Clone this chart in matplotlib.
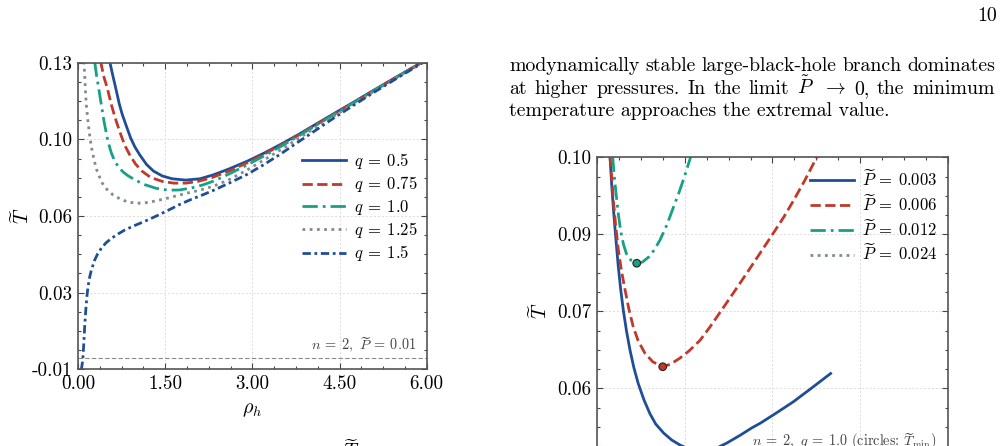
import numpy as np
import matplotlib
matplotlib.use("Agg")
import matplotlib.pyplot as plt
from matplotlib.ticker import FormatStrFormatter, AutoMinorLocator, FixedLocator, FixedFormatter
from matplotlib.transforms import IdentityTransform

plt.rcParams.update({
    "font.family": "serif",
    "font.serif": ["cmr10"],
    "mathtext.fontset": "cm",
    "axes.unicode_minus": False,
    "axes.formatter.use_mathtext": True,
})

# ---------------------------------------------------------------------------
# data, left panel : T(rho_h) for several q, n = 2, P = 0.01
# ---------------------------------------------------------------------------
rho_q05 = [0.546, 0.60, 0.65, 0.712, 0.76, 0.805, 0.86, 0.908, 0.98, 1.063, 1.18, 1.30, 1.45,
           1.62, 1.85, 2.10, 2.33, 2.60, 2.91, 3.20, 3.48, 3.80, 4.06, 4.40, 4.75, 5.10, 5.50, 6.00]
T_q05 = [0.1305, 0.1240, 0.1183, 0.1110, 0.1065, 0.1031, 0.0990, 0.0955, 0.0915, 0.0879, 0.0835, 0.0805,
         0.0783, 0.0770, 0.0764, 0.0770, 0.0788, 0.0815, 0.0850, 0.0887, 0.0926, 0.0973, 0.1014, 0.1067,
         0.1121, 0.1176, 0.1238, 0.1315]

rho_q075 = [0.391, 0.44, 0.505, 0.575, 0.62, 0.66, 0.71, 0.759, 0.82, 0.891, 0.988, 1.10, 1.25, 1.45,
            1.65, 1.85, 2.05, 2.30, 2.60, 2.91, 3.20, 3.48, 3.80, 4.06, 4.40, 4.75, 5.10, 5.50, 6.00]
T_q075 = [0.1305, 0.1240, 0.1183, 0.1107, 0.1066, 0.1031, 0.0992, 0.0955, 0.0915, 0.0879, 0.0838, 0.0805,
          0.0776, 0.0758, 0.0750, 0.0750, 0.0757, 0.0775, 0.0805, 0.0843, 0.0882, 0.0922, 0.0970, 0.1011,
          0.1065, 0.1119, 0.1175, 0.1237, 0.1314]

rho_q10 = [0.287, 0.32, 0.356, 0.402, 0.448, 0.505, 0.54, 0.575, 0.63, 0.70, 0.78, 0.86, 1.00, 1.15,
           1.35, 1.55, 1.75, 1.95, 2.15, 2.35, 2.60, 2.91, 3.20, 3.48, 3.80, 4.06, 4.40, 4.75, 5.10,
           5.50, 6.00]
T_q10 = [0.1305, 0.1240, 0.1183, 0.1107, 0.1031, 0.0955, 0.0918, 0.0887, 0.0852, 0.0822, 0.0800, 0.0784,
         0.0762, 0.0743, 0.0726, 0.0718, 0.0719, 0.0728, 0.0742, 0.0761, 0.0792, 0.0833, 0.0874, 0.0916,
         0.0966, 0.1008, 0.1063, 0.1118, 0.1174, 0.1236, 0.1313]

rho_q125 = [0.103, 0.126, 0.143, 0.172, 0.207, 0.235, 0.259, 0.287, 0.32, 0.356, 0.414, 0.46, 0.517,
            0.60, 0.736, 0.862, 1.006, 1.15, 1.32, 1.52, 1.72, 1.90, 2.10, 2.33, 2.60, 2.91, 3.20,
            3.48, 3.80, 4.06, 4.40, 4.75, 5.10, 5.50, 6.00]
T_q125 = [0.1305, 0.1183, 0.1107, 0.1031, 0.0955, 0.0910, 0.0879, 0.0845, 0.0812, 0.0787, 0.0752, 0.0733,
          0.0716, 0.0697, 0.0676, 0.0664, 0.0658, 0.0660, 0.0668, 0.0680, 0.0694, 0.0706, 0.0718, 0.0736,
          0.0766, 0.0810, 0.0856, 0.0901, 0.0955, 0.0999, 0.1056, 0.1113, 0.1170, 0.1234, 0.1312]

rho_q15 = [0.057, 0.075, 0.086, 0.10, 0.115, 0.13, 0.143, 0.157, 0.172, 0.20, 0.23, 0.287, 0.34,
           0.402, 0.48, 0.575, 0.69, 0.805, 0.97, 1.15, 1.35, 1.55, 1.76, 1.95, 2.15, 2.33, 2.60,
           2.91, 3.20, 3.48, 3.80, 4.06, 4.40, 4.75, 5.10, 5.50, 6.00]
T_q15 = [-0.0103, -0.0070, -0.0042, 0.0020, 0.0095, 0.0155, 0.0201, 0.0242, 0.0277, 0.0320, 0.0353,
         0.0399, 0.0428, 0.0453, 0.0477, 0.0498, 0.0518, 0.0536, 0.0556, 0.0576, 0.0600, 0.0626, 0.0654,
         0.0676, 0.0697, 0.0717, 0.0750, 0.0790, 0.0835, 0.0882, 0.0940, 0.0986, 0.1047, 0.1107, 0.1166,
         0.1231, 0.1311]

q_labels = [r"$q\:=\:0.5$", r"$q\:=\:0.75$", r"$q\:=\:1.0$", r"$q\:=\:1.25$", r"$q\:=\:1.5$"]
T_ref_line = -0.005
left_xticks = [0.0, 1.5, 3.0, 4.5, 6.0]
left_yticks = [-0.01, 0.025, 0.06, 0.095, 0.13]
left_yticklabels = ["-0.01", "0.03", "0.06", "0.10", "0.13"]

# ---------------------------------------------------------------------------
# data, right panel : T(rho_h) for several P, n = 2, q = 1.0
# ---------------------------------------------------------------------------
x_p003 = [0.435, 0.50, 0.572, 0.65, 0.72, 0.80, 0.89, 1.00, 1.12, 1.25, 1.40, 1.60, 1.80, 2.00,
          2.28, 2.55, 2.83, 3.10, 3.40, 3.70, 4.00, 4.43, 4.90, 5.30, 5.57, 6.10, 6.71, 7.30, 7.99]
T_p003 = [0.1001, 0.0950, 0.0904, 0.0860, 0.0822, 0.0786, 0.0752, 0.0718, 0.0687, 0.0659, 0.0633,
          0.0606, 0.0584, 0.0567, 0.0552, 0.0541, 0.0533, 0.0527, 0.0524, 0.0523, 0.0526, 0.0536,
          0.0549, 0.0561, 0.0568, 0.0584, 0.0603, 0.0624, 0.0649]

x_p006 = [0.435, 0.50, 0.548, 0.63, 0.72, 0.83, 0.95, 1.08, 1.23, 1.40, 1.63, 1.90, 2.24, 2.50,
          2.83, 3.15, 3.52, 3.85, 4.20, 4.65, 5.12, 5.57, 6.03, 6.40, 6.71, 7.10, 7.46, 7.55]
T_p006 = [0.1001, 0.0963, 0.0931, 0.0889, 0.0850, 0.0815, 0.0785, 0.0754, 0.0725, 0.0702, 0.0682,
          0.0668, 0.0660, 0.0664, 0.0674, 0.0686, 0.0703, 0.0724, 0.0748, 0.0779, 0.0812, 0.0844,
          0.0877, 0.0904, 0.0929, 0.0962, 0.0995, 0.1003]

x_p012 = [0.527, 0.58, 0.64, 0.72, 0.80, 0.90, 1.00, 1.15, 1.35, 1.55, 1.78, 1.97, 2.15, 2.38,
          2.60, 2.80, 2.98, 3.20]
T_p012 = [0.1001, 0.0970, 0.0942, 0.0908, 0.0880, 0.0858, 0.0843, 0.0833, 0.0828, 0.0830, 0.0839,
          0.0851, 0.0866, 0.0890, 0.0918, 0.0943, 0.0968, 0.1001]

x_p024 = []
T_p024 = []

p_labels = [r"$\widetilde{P}\:=\:0.003$", r"$\widetilde{P}\:=\:0.006$",
            r"$\widetilde{P}\:=\:0.012$", r"$\widetilde{P}\:=\:0.024$"]

tmin_x = [2.24, 1.35]
tmin_T = [0.0660, 0.0828]

right_xticks = [0, 3, 6, 9, 12]
right_yticks = [0.05, 0.0625, 0.075, 0.0875, 0.10]
right_yticklabels = ["0.05", "0.06", "0.07", "0.09", "0.10"]

# ---------------------------------------------------------------------------
# style
# ---------------------------------------------------------------------------
BLUE = "#1f4e96"
RED = "#c0392b"
GREEN = "#16a085"
GRAY = "#7f8c8d"

TICK_SIZE = 13.8
LABEL_SIZE = 14.5
LEG_SIZE = 12.0
NOTE_SIZE = 10.3
LW = 2.0
DASHDOT = (0, (5.5, 1.8, 1, 1.8))
DOTTED = (0, (1, 1.6))
DASHDOT2 = (0, (3, 1.3, 1, 1.3))

W, H = 1004, 446
fig = plt.figure(figsize=(W / 100, H / 100), dpi=100)


def rect(left, top, right, bottom):
    return [left / W, (H - bottom) / H, (right - left) / W, (bottom - top) / H]


def style_axes(ax):
    ax.tick_params(which="both", direction="in", top=True, right=True,
                   color="#444444", labelsize=TICK_SIZE, width=0.8)
    ax.tick_params(which="major", length=4.5, pad=4)
    ax.tick_params(which="minor", length=2.3)
    for s in ax.spines.values():
        s.set_color("#555555")
        s.set_linewidth(1.2)
    ax.grid(True, which="major", color="#dcdcdc", ls=(0, (2, 2)), lw=0.7)
    ax.xaxis.set_minor_locator(AutoMinorLocator(4))
    ax.yaxis.set_minor_locator(AutoMinorLocator(4))
    ax.xaxis.set_major_formatter(FormatStrFormatter("%.2f"))


# ---------------------------------------------------------------------------
# left panel
# ---------------------------------------------------------------------------
ax1 = fig.add_axes(rect(78, 62.7, 426.7, 369.3))
ax1.plot(rho_q05, T_q05, color=BLUE, lw=LW, ls="-", label=q_labels[0])
ax1.plot(rho_q075, T_q075, color=RED, lw=LW, ls="--", label=q_labels[1])
ax1.plot(rho_q10, T_q10, color=GREEN, lw=LW, ls=DASHDOT, label=q_labels[2])
ax1.plot(rho_q125, T_q125, color=GRAY, lw=LW, ls=DOTTED, label=q_labels[3])
ax1.plot(rho_q15, T_q15, color=BLUE, lw=LW, ls=DASHDOT2, label=q_labels[4])
ax1.axhline(T_ref_line, color="#8a8a8a", lw=0.8, ls=(0, (4, 2)))

ax1.set_xlim(0, 6)
ax1.set_ylim(-0.01, 0.13)
ax1.xaxis.set_major_locator(FixedLocator(left_xticks))
ax1.yaxis.set_major_locator(FixedLocator(left_yticks))
ax1.yaxis.set_major_formatter(FixedFormatter(left_yticklabels))
style_axes(ax1)
ax1.set_xlabel(r"$\rho_h$", fontsize=LABEL_SIZE)
ax1.set_ylabel(r"$\widetilde{T}$", fontsize=LABEL_SIZE, va="center")
ax1.xaxis.set_label_coords(0.5, -0.105)
ax1.yaxis.set_label_coords(-0.16, 0.5)
ax1.legend(loc="upper left", bbox_to_anchor=(0.642, 0.712), frameon=False,
           fontsize=LEG_SIZE, handlelength=2.65, handletextpad=0.45,
           labelspacing=0.2, borderpad=0, borderaxespad=0)
ax1.text(0.969, 0.063, r"$n\:=\:2,\ \widetilde{P}\:=\:0.01$", transform=ax1.transAxes,
         ha="right", va="baseline", fontsize=NOTE_SIZE, color="#444444")

# ---------------------------------------------------------------------------
# right panel
# ---------------------------------------------------------------------------
ax2 = fig.add_axes(rect(597.3, 157.3, 947.7, 465.3))
ax2.plot(x_p003, T_p003, color=BLUE, lw=LW, ls="-", label=p_labels[0])
ax2.plot(x_p006, T_p006, color=RED, lw=LW, ls="--", label=p_labels[1])
ax2.plot(x_p012, T_p012, color=GREEN, lw=LW, ls=DASHDOT, label=p_labels[2])
ax2.plot(x_p024, T_p024, color=GRAY, lw=LW, ls=DOTTED, label=p_labels[3])
ax2.scatter(tmin_x, tmin_T, c=[RED, GREEN], s=30, edgecolors="#222222",
            linewidths=0.8, zorder=5)

ax2.set_xlim(0, 12)
ax2.set_ylim(0.05, 0.10)
ax2.xaxis.set_major_locator(FixedLocator(right_xticks))
ax2.yaxis.set_major_locator(FixedLocator(right_yticks))
ax2.yaxis.set_major_formatter(FixedFormatter(right_yticklabels))
style_axes(ax2)
ax2.set_ylabel(r"$\widetilde{T}$", fontsize=LABEL_SIZE, va="center")
ax2.yaxis.set_label_coords(-0.164, 0.5)
ax2.legend(loc="upper left", bbox_to_anchor=(0.607, 0.962), frameon=False,
           fontsize=LEG_SIZE, handlelength=2.65, handletextpad=0.45,
           labelspacing=0.28, borderpad=0, borderaxespad=0)
ax2.text(0.969, 0.063, r"$n\:=\:2,\ q\:=\:1.0$ (circles: $\widetilde{T}_{\rm min}$)",
         transform=ax2.transAxes, ha="right", va="baseline",
         fontsize=NOTE_SIZE, color="#444444")

# ---------------------------------------------------------------------------
# page text
# ---------------------------------------------------------------------------
renderer = fig.canvas.get_renderer()
ident = IdentityTransform()

line1 = "modynamically stable large-black-hole branch dominates".split()
line2 = ["at", "higher", "pressures.", "In", "the", "limit", r"$\tilde{P}$",
         r"$\rightarrow$", "0,", "the", "minimum"]
line3 = "temperature approaches the extremal value."

X0, X1 = 509, 995

t3 = fig.text(X0, H - 116.5, line3, transform=ident, fontsize=14, va="baseline")
w3 = t3.get_window_extent(renderer).width
BODY = 14 * 381 / w3
t3.set_fontsize(BODY)


def justify(words, y):
    arts = [fig.text(0, H - y, w, transform=ident, fontsize=BODY, va="baseline") for w in words]
    widths = [a.get_window_extent(renderer).width for a in arts]
    gap = (X1 - X0 - sum(widths)) / (len(words) - 1)
    x = X0
    for a, w in zip(arts, widths):
        a.set_x(x)
        x += w + gap


justify(line1, 71)
justify(line2, 94)

fig.text(997, H - 21, "10", transform=ident, fontsize=BODY, ha="right", va="baseline")
# caption fragment cut by the page edge
fig.text(351, H - 458, r"$\widetilde{T}$", transform=ident, fontsize=LABEL_SIZE,
         ha="center", va="baseline")

fig.savefig("out.png", dpi=100)
